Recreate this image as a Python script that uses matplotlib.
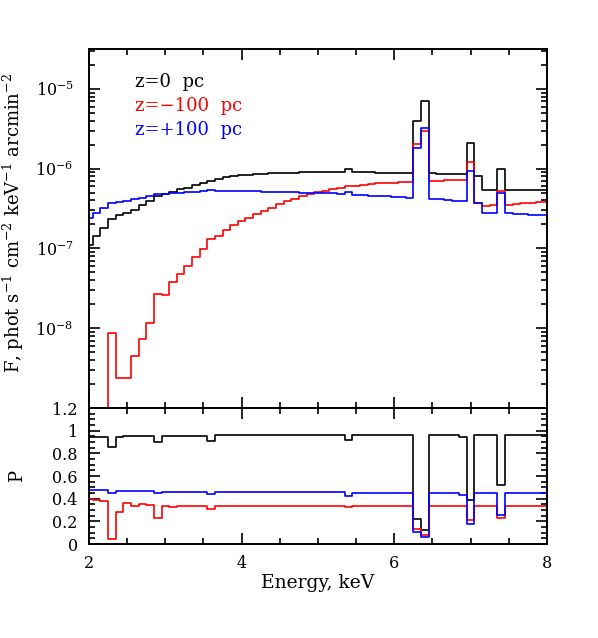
import numpy as np
from matplotlib import pyplot as plt
from matplotlib.ticker import MultipleLocator, LogLocator, NullFormatter

plt.rcParams['font.family'] = ['DejaVu Serif']
plt.rcParams['mathtext.fontset'] = 'dejavuserif'

# bin centres, keV
energy = np.arange(20, 81) / 10.0

# spectra, phot s^-1 cm^-2 keV^-1 arcmin^-2
f_z0 = [1.10e-7, 1.43e-7, 1.78e-7, 2.37e-7, 2.61e-7, 2.79e-7, 3.07e-7, 3.48e-7, 3.94e-7, 4.51e-7,
        4.87e-7, 5.10e-7, 5.50e-7, 5.80e-7, 6.20e-7, 6.60e-7, 7.00e-7, 7.50e-7, 7.85e-7, 8.10e-7,
        8.30e-7, 8.45e-7, 8.55e-7, 8.65e-7, 8.75e-7, 8.85e-7, 8.90e-7, 8.95e-7, 9.00e-7, 9.05e-7,
        9.10e-7, 9.10e-7, 9.10e-7, 9.10e-7, 1.00e-6, 9.10e-7, 9.05e-7, 9.00e-7, 8.95e-7, 8.90e-7,
        8.85e-7, 8.80e-7, 8.75e-7, 3.94e-6, 7.00e-6, 8.70e-7, 8.65e-7, 8.60e-7, 8.55e-7, 8.50e-7,
        2.09e-6, 8.20e-7, 5.46e-7, 5.46e-7, 9.90e-7, 5.45e-7, 5.42e-7, 5.40e-7, 5.38e-7, 5.35e-7,
        5.33e-7]
f_m100 = [5e-10, 5e-10, 5e-10, 8.66e-9, 2.37e-9, 2.37e-9, 4.47e-9, 7.29e-9, 1.16e-8, 2.66e-8,
          2.60e-8, 3.82e-8, 4.81e-8, 6.00e-8, 7.80e-8, 9.80e-8, 1.31e-7, 1.44e-7, 1.69e-7, 1.95e-7,
          2.19e-7, 2.43e-7, 2.69e-7, 2.95e-7, 3.24e-7, 3.58e-7, 3.94e-7, 4.22e-7, 4.51e-7, 4.81e-7,
          5.06e-7, 5.25e-7, 5.51e-7, 5.79e-7, 6.00e-7, 6.15e-7, 6.30e-7, 6.45e-7, 6.55e-7, 6.60e-7,
          6.68e-7, 6.74e-7, 6.80e-7, 2.01e-6, 3.00e-6, 7.00e-7, 7.08e-7, 7.15e-7, 7.22e-7, 7.30e-7,
          1.20e-6, 3.72e-7, 3.41e-7, 3.55e-7, 5.25e-7, 3.55e-7, 3.60e-7, 3.66e-7, 3.72e-7, 3.78e-7,
          3.83e-7]
f_p100 = [2.44e-7, 2.82e-7, 3.22e-7, 3.72e-7, 3.80e-7, 3.94e-7, 4.13e-7, 4.34e-7, 4.60e-7, 4.77e-7,
          4.87e-7, 4.93e-7, 5.00e-7, 5.05e-7, 5.10e-7, 5.20e-7, 5.40e-7, 5.30e-7, 5.30e-7, 5.28e-7,
          5.25e-7, 5.23e-7, 5.20e-7, 5.17e-7, 5.14e-7, 5.10e-7, 5.07e-7, 5.04e-7, 5.00e-7, 4.97e-7,
          4.94e-7, 4.91e-7, 4.89e-7, 4.87e-7, 5.10e-7, 4.70e-7, 4.65e-7, 4.60e-7, 4.54e-7, 4.48e-7,
          4.42e-7, 4.36e-7, 4.29e-7, 1.83e-6, 3.22e-6, 4.20e-7, 4.12e-7, 4.05e-7, 3.97e-7, 3.90e-7,
          9.40e-7, 3.76e-7, 2.82e-7, 2.80e-7, 4.95e-7, 2.75e-7, 2.72e-7, 2.69e-7, 2.66e-7, 2.63e-7,
          2.60e-7]

# polarization degree
p_z0 = [0.940, 0.940, 0.940, 0.853, 0.940, 0.950, 0.950, 0.950, 0.950, 0.897,
        0.953, 0.953, 0.953, 0.953, 0.953, 0.953, 0.911, 0.959, 0.959, 0.959,
        0.959, 0.959, 0.959, 0.959, 0.959, 0.959, 0.959, 0.959, 0.959, 0.959,
        0.959, 0.959, 0.959, 0.959, 0.918, 0.962, 0.962, 0.962, 0.962, 0.962,
        0.962, 0.962, 0.962, 0.220, 0.124, 0.962, 0.962, 0.962, 0.962, 0.940,
        0.388, 0.962, 0.962, 0.962, 0.520, 0.962, 0.962, 0.962, 0.962, 0.962,
        0.962]
p_m100 = [0.397, 0.388, 0.379, 0.047, 0.280, 0.359, 0.338, 0.350, 0.344, 0.232,
          0.338, 0.329, 0.335, 0.335, 0.335, 0.335, 0.306, 0.338, 0.338, 0.338,
          0.338, 0.338, 0.338, 0.338, 0.338, 0.338, 0.338, 0.338, 0.338, 0.338,
          0.338, 0.338, 0.338, 0.338, 0.329, 0.338, 0.338, 0.338, 0.338, 0.338,
          0.338, 0.338, 0.338, 0.130, 0.082, 0.338, 0.338, 0.338, 0.338, 0.335,
          0.212, 0.338, 0.338, 0.338, 0.232, 0.338, 0.338, 0.338, 0.338, 0.338,
          0.338]
p_p100 = [0.474, 0.474, 0.474, 0.453, 0.465, 0.465, 0.465, 0.465, 0.465, 0.447,
          0.462, 0.462, 0.462, 0.462, 0.462, 0.462, 0.444, 0.456, 0.456, 0.456,
          0.456, 0.456, 0.456, 0.456, 0.456, 0.456, 0.456, 0.456, 0.456, 0.456,
          0.456, 0.456, 0.456, 0.456, 0.424, 0.453, 0.453, 0.453, 0.453, 0.453,
          0.453, 0.453, 0.453, 0.103, 0.065, 0.453, 0.453, 0.453, 0.453, 0.432,
          0.179, 0.453, 0.453, 0.453, 0.253, 0.453, 0.453, 0.453, 0.453, 0.453,
          0.453]

labels = ['z=0  pc', 'z=\u2212100  pc', 'z=+100  pc']
colors = ['black', 'red', 'blue']

fig = plt.figure(figsize=(5.98, 6.38), dpi=100)
ax1 = fig.add_axes([0.1488, 0.3605, 0.7659, 0.5627])
ax2 = fig.add_axes([0.1488, 0.1473, 0.7659, 0.2132])

lw = 1.2
for f, c in zip([f_z0, f_m100, f_p100], colors):
    ax1.step(energy, f, where='mid', color=c, lw=lw)
for p, c in zip([p_z0, p_m100, p_p100], colors):
    ax2.step(energy, p, where='mid', color=c, lw=lw)

ax1.set_yscale('log')
ax1.set_ylim(1e-9, 10**-4.5)
ax1.set_yticks([1e-8, 1e-7, 1e-6, 1e-5])
ax1.yaxis.set_minor_locator(LogLocator(base=10, subs=np.arange(2, 10)))
ax1.yaxis.set_minor_formatter(NullFormatter())

for ax in (ax1, ax2):
    ax.set_xlim(2, 8)
    ax.xaxis.set_major_locator(MultipleLocator(2))
    ax.xaxis.set_minor_locator(MultipleLocator(0.5))
    ax.tick_params(which='both', direction='in', top=True, right=True, width=1.2, labelsize=11.5)
    ax.tick_params(which='major', length=8, pad=8)
    ax.tick_params(which='minor', length=4.5)
    for s in ax.spines.values():
        s.set_linewidth(1.4)
ax1.tick_params(labelbottom=False)
ax1.tick_params(axis='y', which='major', pad=11)

ax2.set_ylim(0, 1.2)
ax2.yaxis.set_major_locator(MultipleLocator(0.2))
ax2.yaxis.set_minor_locator(MultipleLocator(0.05))
ax2.set_yticks([0, 0.2, 0.4, 0.6, 0.8, 1.0, 1.2])
ax2.set_yticklabels(['0', '0.2', '0.4', '0.6', '0.8', '1', '1.2'])

ax1.set_ylabel(r'F, phot s$^{-1}$ cm$^{-2}$ keV$^{-1}$ arcmin$^{-2}$', fontsize=13)
ax1.yaxis.set_label_coords(-0.137, 0.515)
ax2.set_ylabel('P', fontsize=13)
ax2.yaxis.set_label_coords(-0.137, 0.5)
ax2.set_xlabel('Energy, keV', fontsize=13.5, labelpad=1)

for i, (lab, c) in enumerate(zip(labels, colors)):
    ax1.text(0.1, 0.908 - i * 0.067, lab, color=c, fontsize=13,
             transform=ax1.transAxes, va='center', ha='left')

fig.savefig('out.png', dpi=100)
